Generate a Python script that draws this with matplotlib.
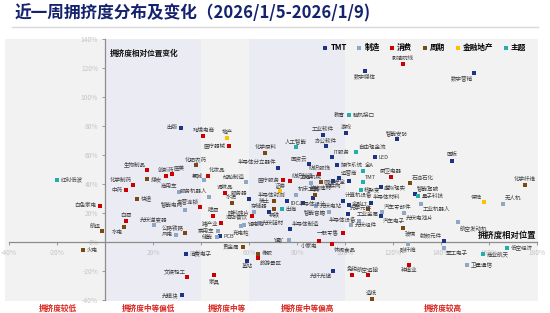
import matplotlib
matplotlib.use("Agg")
import matplotlib.pyplot as plt
import matplotlib.transforms as mtransforms
from matplotlib.ticker import FuncFormatter, MultipleLocator
from matplotlib.lines import Line2D

plt.rcParams["font.family"] = ["Noto Sans CJK SC", "DejaVu Sans"]

# ---- data: crowding relative position (x, %) and its weekly change (y, %) ----
names = [
    "出版", "跨境电商", "地产", "医疗器械", "化学原料", "半导体分立器件", "人工智能",
    "影视院线", "数字媒体", "数字营销", "教育", "脑机接口", "工业软件", "游戏",
    "智能安防", "办公软件", "自由现金流", "IT服务", "LED", "面板", "国资云",
    "操作系统", "全A", "运营商", "TMT", "厨卫电器", "石油石化", "网络安全",
    "物联网", "核聚变", "虚拟现实", "智能驾驶", "量子科技", "半导体材料",
    "计算机设备", "金融IT", "光学元件", "工业金属", "汽车零部件", "汽车电子",
    "工业机器人", "光伏电池片", "玻璃", "航空发动机", "射频元件", "化学纤维",
    "保险", "无人机", "碳纤维", "军工电子", "商业航天", "低空经济", "卫星通信",
    "种植业", "航空运输", "免税", "光纤光缆", "造纸", "一般零售", "小家电",
    "休闲食品", "半导体制造", "锂矿", "出海", "钢铁", "存储器", "智能音箱",
    "半导体设备", "光伏组件", "塑料", "机床工具", "证券", "医疗服务", "纺织制造",
    "工程机械", "纺织服饰", "装修建材", "半导体封测", "稀土", "IDC", "半导体设计",
    "光伏电站", "服务器", "水泥", "调味品", "船舶制造", "化妆品", "氯碱",
    "化肥农药", "服务机器人", "硅料硅片", "酒店餐饮", "啤酒", "专营连锁", "猪产业",
    "乘用车", "储能", "PCB", "充电桩", "锂电池", "光伏辅材", "贵金属", "基站",
    "橡胶", "旅游景区", "家具", "文娱轻工", "光模块", "消费电子", "风电",
    "公路铁路", "光伏逆变器", "智能电网", "商用车", "白酒", "水电", "快递", "中药",
    "化学制药", "煤炭", "生物制品", "创新药", "医美", "红利低波", "白色家电",
    "航运", "火电",
]
x_pos = [
    31.5, 41.0, 51.0, 51.7, 66.8, 72.0, 79.5,
    124.2, 108.3, 153.9, 101.5, 101.8, 90.7, 100.4,
    121.7, 92.0, 104.7, 94.6, 112.5, 144.5, 85.0,
    96.8, 107.6, 97.6, 107.6, 119.0, 127.1, 101.8,
    94.9, 106.5, 114.8, 129.0, 130.3, 110.8,
    99.2, 101.5, 101.4, 109.5, 115.3, 115.0,
    131.7, 124.6, 124.3, 147.2, 141.1, 175.0,
    157.8, 165.8, 126.4, 141.3, 157.5, 167.6, 150.8,
    126.8, 109.5, 102.8, 95.1, 111.1, 99.0, 89.0,
    94.7, 77.1, 76.5, 73.8, 70.5, 68.3, 93.5,
    106.0, 102.5, 87.5, 79.6, 73.1, 74.3, 77.1,
    85.8, 89.3, 90.0, 75.8, 70.2, 82.5, 86.5,
    88.1, 60.1, 52.7, 50.1, 58.8, 42.7, 41.3,
    37.7, 43.2, 61.9, 61.1, 44.9, 39.6, 48.5,
    46.9, 46.5, 47.9, 56.5, 57.9, 64.0, 57.5, 59.2,
    63.9, 63.6, 45.4, 34.3, 32.0, 33.8, 29.5,
    33.5, 20.3, 33.2, 30.7, 8.6, 8.0, 13.5, 8.8,
    11.7, 17.5, 17.6, 25.3, 27.8, -19.9, -2.1,
    -1.1, -9.0,
]
y_chg = [
    78.9, 73.4, 72.0, 66.5, 61.2, 51.0, 65.5,
    122.8, 118.4, 117.0, 87.7, 87.4, 73.9, 75.4,
    71.2, 66.2, 61.9, 58.4, 58.4, 56.3, 53.6,
    52.9, 49.4, 44.1, 41.2, 45.1, 40.5, 41.9,
    42.3, 36.1, 37.7, 33.1, 31.7, 27.0,
    28.1, 25.8, 19.4, 22.9, 20.5, 17.7,
    26.2, 20.0, 9.4, 13.6, 0.5, 39.6,
    27.4, 26.5, -1.1, -4.1, -8.3, -4.1, -16.1,
    -15.6, -23.0, -22.5, -20.2, -39.3, 6.5, 0.7,
    -1.4, 8.8, 1.4, 22.6, 23.0, 21.0, 20.8,
    14.8, 11.5, 32.7, 32.7, 35.4, 42.6, 41.9,
    40.8, 46.9, 41.5, 28.4, 28.1, 26.7, 30.5,
    24.6, 29.9, 26.9, 33.6, 41.2, 45.9, 42.6,
    53.1, 31.0, 20.8, 17.9, 18.2, 24.4, 13.2,
    7.7, 3.2, 3.9, 10.8, 11.9, 12.9, -3.2, -12.8,
    -8.0, -11.2, -23.0, -23.9, -36.3, -8.0, 5.1,
    6.0, 11.5, 21.9, 34.5, 14.3, 10.1, 29.7, 35.9,
    39.1, 43.2, 49.7, 45.8, 46.7, 42.8, 25.1,
    7.4, -5.5,
]
sector = [
    "TMT", "消费", "金融地产", "消费", "周期", "TMT", "主题",
    "消费", "TMT", "TMT", "消费", "主题", "TMT", "TMT",
    "TMT", "TMT", "主题", "TMT", "TMT", "TMT", "TMT",
    "TMT", "主题", "TMT", "主题", "消费", "周期", "TMT",
    "TMT", "主题", "TMT", "TMT", "主题", "TMT",
    "TMT", "TMT", "TMT", "周期", "制造", "TMT",
    "制造", "制造", "周期", "制造", "TMT", "周期",
    "金融地产", "制造", "制造", "制造", "主题", "主题", "制造",
    "消费", "消费", "消费", "TMT", "周期", "消费", "消费",
    "消费", "TMT", "制造", "主题", "周期", "TMT", "制造",
    "制造", "制造", "周期", "制造", "金融地产", "消费", "消费",
    "制造", "消费", "周期", "TMT", "周期", "TMT", "TMT",
    "制造", "TMT", "周期", "消费", "制造", "消费", "制造",
    "周期", "制造", "制造", "消费", "消费", "消费", "消费",
    "制造", "制造", "TMT", "制造", "制造", "制造", "周期", "TMT",
    "周期", "消费", "消费", "消费", "TMT", "TMT", "制造",
    "周期", "制造", "制造", "制造", "消费", "周期", "周期", "消费",
    "消费", "周期", "消费", "消费", "消费", "主题", "消费",
    "周期", "周期",
]

categories = ["TMT", "制造", "消费", "周期", "金融地产", "主题"]
zones = ["拥挤度较低", "拥挤度中等偏低", "拥挤度中等", "拥挤度中等偏高", "拥挤度较高"]
zone_edges = [-40, 0, 40, 60, 100, 180]

# ---- styling ----
cat_colors = {
    "TMT": "#1b3486",
    "制造": "#8ea7c6",
    "消费": "#cc0000",
    "周期": "#7a4812",
    "金融地产": "#ffc000",
    "主题": "#22aeaa",
}
# where each label sits relative to its marker (default: right)
label_side = {
    "出版": "l", "跨境电商": "a", "地产": "a", "医疗器械": "l", "化学原料": "a",
    "半导体分立器件": "al", "人工智能": "a", "影视院线": "a", "数字媒体": "b",
    "数字营销": "bl", "教育": "l", "工业软件": "a", "游戏": "a", "智能安防": "a",
    "办公软件": "a", "自由现金流": "ar", "IT服务": "ar", "面板": "a", "国资云": "al",
    "全A": "ar", "运营商": "ar", "TMT": "ar", "厨卫电器": "a", "石油石化": "ar",
    "网络安全": "l", "物联网": "b", "智能驾驶": "ar", "半导体材料": "ar",
    "计算机设备": "ar", "光学元件": "ar", "工业金属": "b", "汽车零部件": "ar",
    "汽车电子": "br", "工业机器人": "br", "光伏电池片": "br", "玻璃": "br",
    "航空发动机": "br", "射频元件": "al", "化学纤维": "a", "保险": "al",
    "无人机": "ar", "碳纤维": "b", "军工电子": "br", "种植业": "b", "航空运输": "a",
    "免税": "a", "光纤光缆": "bl", "造纸": "a", "一般零售": "l", "小家电": "bl",
    "休闲食品": "br", "半导体制造": "ar", "锂矿": "l", "钢铁": "b", "存储器": "al",
    "智能音箱": "l", "半导体设备": "l", "塑料": "a", "机床工具": "ar", "证券": "a",
    "医疗服务": "l", "纺织制造": "ar", "工程机械": "a", "纺织服饰": "a",
    "装修建材": "b", "半导体封测": "al", "稀土": "l", "IDC": "l", "半导体设计": "b",
    "服务器": "al", "水泥": "a", "调味品": "a", "船舶制造": "al", "化妆品": "ar",
    "氯碱": "al", "化肥农药": "a", "服务机器人": "al", "硅料硅片": "l",
    "酒店餐饮": "l", "啤酒": "a", "专营连锁": "al", "猪产业": "l", "乘用车": "l",
    "储能": "l", "充电桩": "b", "贵金属": "l", "基站": "b", "旅游景区": "br",
    "家具": "b", "文娱轻工": "al", "光模块": "l", "风电": "l", "公路铁路": "al",
    "光伏逆变器": "a", "智能电网": "al", "商用车": "al", "白酒": "a", "水电": "bl",
    "中药": "l", "化学制药": "al", "生物制品": "al", "创新药": "a", "医美": "ar",
    "白色家电": "l", "航运": "al",
}
side_fmt = {
    "r": ((2.6, 0), "left", "center"),
    "l": ((-2.6, 0), "right", "center"),
    "a": ((0, 2.2), "center", "bottom"),
    "b": ((0, -2.2), "center", "top"),
    "al": ((-1.2, 2.0), "right", "bottom"),
    "ar": ((1.2, 2.0), "left", "bottom"),
    "bl": ((-1.2, -2.0), "right", "top"),
    "br": ((1.2, -2.0), "left", "top"),
}

W, H = 550, 313
fig = plt.figure(figsize=(W / 100, H / 100), dpi=100)
fig.patch.set_facecolor("white")

ax = fig.add_axes([5 / W, 1 - 300.5 / H, 533 / W, 262 / H])
ax.set_xlim(-41.7, 180.4)
ax.set_ylim(-40.3, 140.5)
ax.set_facecolor("#f2f2f2")

# crowding zones as alternating background bands
band_cols = ["#f2f2f2", "#ebebf4", "#f2f2f2", "#ebebf4", "#f2f2f2"]
for i in range(len(zones)):
    lo = zone_edges[i] if i > 0 else -41.7
    hi = zone_edges[i + 1] if i < len(zones) - 1 else 180.4
    ax.axvspan(lo, hi, color=band_cols[i], lw=0, zorder=0)

# axes through the origin
for s in ("top", "right"):
    ax.spines[s].set_visible(False)
ax.spines["left"].set_position(("data", 0))
ax.spines["bottom"].set_position(("data", 0))
for s in ("left", "bottom"):
    ax.spines[s].set_color("#8c8c8c")
    ax.spines[s].set_linewidth(0.9)
ax.spines["bottom"].set_bounds(-40, 180)
ax.spines["left"].set_bounds(-40, 140)

ax.xaxis.set_major_locator(MultipleLocator(20))
ax.yaxis.set_major_locator(MultipleLocator(20))
pct = FuncFormatter(lambda v, p: "" if abs(v) < 1e-9 else f"{v:.0f}%")
ax.xaxis.set_major_formatter(pct)
ax.yaxis.set_major_formatter(FuncFormatter(lambda v, p: f"{v:.0f}%"))
ax.tick_params(axis="both", colors="#8c8c8c", labelcolor="#c4c4c4",
               labelsize=4.8, length=2, width=0.6, pad=3)

# scatter, one call per sector
for cat in categories:
    xs = [x for x, c in zip(x_pos, sector) if c == cat]
    ys = [y for y, c in zip(y_chg, sector) if c == cat]
    ax.scatter(xs, ys, marker="s", s=9, color=cat_colors[cat], lw=0,
               zorder=3, label=cat)

for n, x, y in zip(names, x_pos, y_chg):
    off, ha, va = side_fmt[label_side.get(n, "r")]
    ax.annotate(n, (x, y), xytext=off, textcoords="offset points",
                ha=ha, va=va, fontsize=4, color="#404040", zorder=4)

# axis captions
ax.text(2.1, 130, "拥挤度相对位置变化", fontsize=5.5, fontweight="bold",
        color="#111111", ha="left", va="center")
ax.text(179.6, 4.4, "拥挤度相对位置", fontsize=6, fontweight="bold",
        color="#111111", ha="right", va="center")

# zone names under the plot
zone_centers = [-19.7, 18.3, 50.8, 84.2, 140.7]
tr = mtransforms.blended_transform_factory(ax.transData, fig.transFigure)
for z, cx in zip(zones, zone_centers):
    ax.text(cx, 1 - 308 / H, z, transform=tr, fontsize=5.5, fontweight="bold",
            color="#d8231b", ha="center", va="center", clip_on=False)

# legend
leg = ax.legend(loc="center right", bbox_to_anchor=(530 / W, 1 - 47.3 / H),
                bbox_transform=fig.transFigure, ncol=6, frameon=False,
                fontsize=5.5, handlelength=0.6, handletextpad=0.4,
                columnspacing=1.3, borderpad=0, markerscale=1.0)
for t in leg.get_texts():
    t.set_fontweight("bold")

# title and rule
fig.text(15 / W, 1 - 13.5 / H, "近一周拥挤度分布及变化（2026/1/5-2026/1/9)",
         fontsize=12, fontweight="bold", color="#14236e", ha="left", va="center")
fig.add_artist(Line2D([12 / W, 538 / W], [1 - 27 / H, 1 - 27 / H],
                      transform=fig.transFigure, color="#d9d9d9", lw=1))

fig.savefig("out.png", dpi=100, facecolor="white")
